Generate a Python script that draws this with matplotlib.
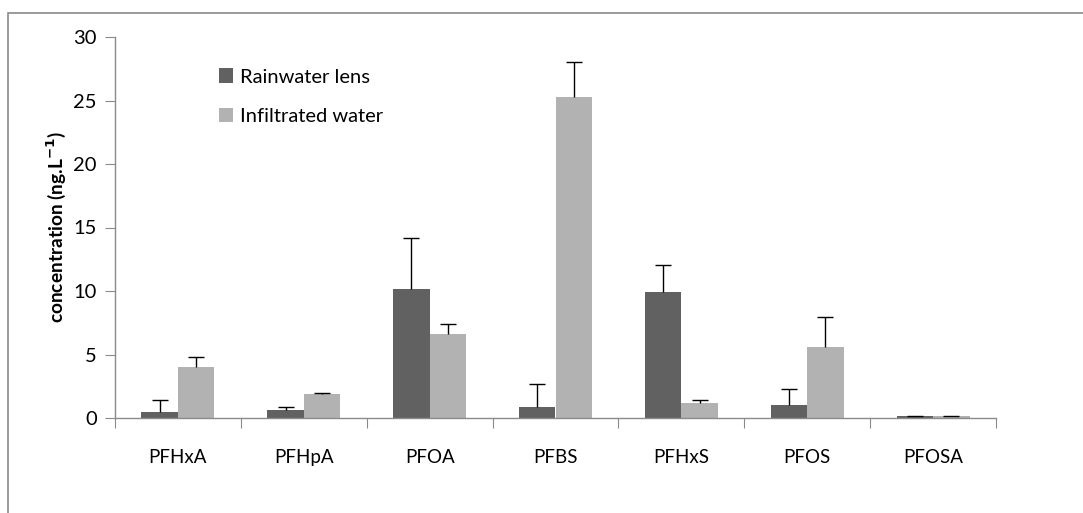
import matplotlib.pyplot as plt
import numpy as np
from matplotlib.patches import Rectangle

plt.rcParams["font.family"] = ["Lato", "DejaVu Sans"]

compounds = ["PFHxA", "PFHpA", "PFOA", "PFBS", "PFHxS", "PFOS", "PFOSA"]
rainwater = [0.47, 0.63, 10.15, 0.87, 9.92, 1.02, 0.16]
rainwater_err = [0.92, 0.21, 4.0, 1.83, 2.1, 1.24, 0.03]
infiltrated = [4.0, 1.89, 6.6, 25.3, 1.18, 5.59, 0.15]
infiltrated_err = [0.83, 0.08, 0.83, 2.7, 0.21, 2.39, 0.03]

DARK = "#616161"
LIGHT = "#b2b2b2"
AXIS = "#8a8a8a"

fig = plt.figure(figsize=(10.83, 5.13), dpi=100)
# outer chart frame (only left/top visible in the crop)
fig.patches.append(Rectangle((8 / 1083, -0.1), 1.2, 1 - 13 / 513 + 0.1,
                             transform=fig.transFigure, fill=False,
                             edgecolor=AXIS, linewidth=1.2))

ax = fig.add_axes([115 / 1083, 1 - 418 / 513, (996 - 115) / 1083, (418 - 37) / 513])

x = np.arange(len(compounds))
w = 0.29


def bars_with_upper_err(xpos, vals, errs, color, label):
    vals = np.array(vals)
    errs = np.array(errs)
    ax.bar(xpos, vals, w, color=color, label=label, zorder=2)
    ax.vlines(xpos, vals, vals + errs, color="black", linewidth=1, zorder=3)
    ax.plot(xpos, vals + errs, linestyle="none", marker="_", markersize=12,
            markeredgewidth=1, color="black", zorder=3)


bars_with_upper_err(x - w / 2, rainwater, rainwater_err, DARK, "Rainwater lens")
bars_with_upper_err(x + w / 2, infiltrated, infiltrated_err, LIGHT, "Infiltrated water")

ax.set_xlim(-0.5, len(compounds) - 0.5)
ax.set_ylim(0, 30)
ax.set_yticks(range(0, 31, 5))
ax.set_xticks(np.arange(-0.5, len(compounds), 1.0))
ax.set_xticklabels([])
ax.set_xticks(x, minor=True)
ax.set_xticklabels(compounds, minor=True)
ax.tick_params(axis="x", which="minor", length=0, pad=22, labelsize=13.5)
ax.tick_params(axis="x", which="major", length=7, color=AXIS, direction="out")
ax.tick_params(axis="y", length=7, color=AXIS, labelsize=14.5, pad=6)

for s in ["top", "right"]:
    ax.spines[s].set_visible(False)
for s in ["left", "bottom"]:
    ax.spines[s].set_color(AXIS)
    ax.spines[s].set_linewidth(1)

ax.set_ylabel("concentration (ng.L$^{\\mathbf{-1}}$)", fontsize=13.8,
              fontweight="bold", labelpad=4)

leg = ax.legend(loc="upper left", bbox_to_anchor=(0.097, 0.965), frameon=False,
                fontsize=14.5, handlelength=0.7, handleheight=0.7, handletextpad=0.35,
                labelspacing=1.1)

fig.savefig("out.png", dpi=100)
